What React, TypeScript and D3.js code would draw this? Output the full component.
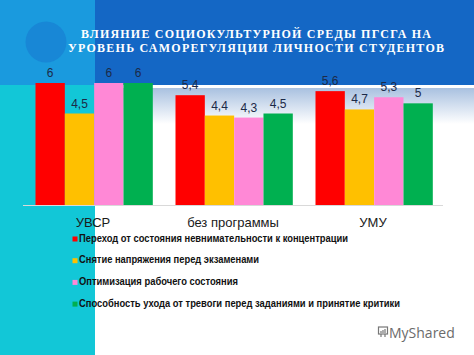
import React from "react";
import * as d3 from "d3";

const categories = ["УВСР", "без программы", "УМУ"];
const seriesNames = [
  "Переход от состояния невнимательности к концентрации",
  "Снятие напряжения перед экзаменами",
  "Оптимизация рабочего состояния",
  "Способность ухода от тревоги перед заданиями и принятие критики",
];
const seriesColors = ["#ff0000", "#ffc000", "#ff88d6", "#00b050"];
const values: number[][] = [
  [6, 5.4, 5.6],
  [4.5, 4.4, 4.7],
  [6, 4.3, 5.3],
  [6, 4.5, 5],
];
const valueLabels: string[][] = [
  ["6", "5,4", "5,6"],
  ["4,5", "4,4", "4,7"],
  ["6", "4,3", "5,3"],
  ["6", "4,5", "5"],
];
const titleLines = [
  "ВЛИЯНИЕ СОЦИОКУЛЬТУРНОЙ СРЕДЫ ПГСГА НА",
  "УРОВЕНЬ САМОРЕГУЛЯЦИИ ЛИЧНОСТИ СТУДЕНТОВ",
];
const legendWidths = [269, 180, 159, 321];

export default function App() {
  const W = 474, H = 355;
  const baseY = 205;
  const x0 = d3.scaleBand<string>().domain(categories).range([23, 443]).paddingInner(0).paddingOuter(0);
  const x1 = d3
    .scaleBand<number>()
    .domain(d3.range(seriesNames.length))
    .range([12.5, 12.5 + 117.3])
    .padding(0);
  const y = d3.scaleLinear().domain([0, 6]).range([baseY, 83]);

  return (
    <svg width={W} height={H} style={{ position: "absolute", left: 0, top: 0, display: "block" }}>
      <defs>
        <linearGradient id="fadeg" x1="0" y1="0" x2="0" y2="1">
          <stop offset="0" stopColor="#a9c1e0" />
          <stop offset="1" stopColor="#ffffff" />
        </linearGradient>
      </defs>
      <rect x={0} y={0} width={W} height={H} fill="#ffffff" />
      <rect x={95} y={88} width={W - 95} height={36} fill="url(#fadeg)" />
      <rect x={95} y={0} width={W - 95} height={85} fill="#1467c5" />
      <rect x={0} y={0} width={95} height={85} fill="#1a9ade" />
      <rect x={0} y={85} width={95} height={H - 85} fill="#12c7d7" />
      <circle cx={46} cy={42} r={20.5} fill="#1887d6" />
      {titleLines.map((t, i) => (
        <text
          key={i}
          x={i === 0 ? 81 : 68}
          y={i === 0 ? 38 : 51.5}
          textLength={i === 0 ? 350 : 376}
          lengthAdjust="spacing"
          fill="#ffffff"
          fontFamily="'Liberation Serif', 'DejaVu Serif', serif"
          fontWeight="bold"
          fontSize={12}
        >
          {t}
        </text>
      ))}
      <line x1={23} x2={443} y1={baseY + 0.5} y2={baseY + 0.5} stroke="#d9d9d9" strokeWidth={1} />
      {categories.map((c, ci) => (
        <g key={c} transform={`translate(${x0(c)},0)`}>
          {seriesNames.map((_, si) => {
            const v = values[si][ci];
            const bx = x1(si)!;
            const bw = x1.bandwidth();
            return (
              <g key={si}>
                <rect x={bx} y={y(v)} width={bw} height={baseY - y(v)} fill={seriesColors[si]} />
                <text
                  x={bx + bw / 2}
                  y={y(v) - 6}
                  textAnchor="middle"
                  fontFamily="'Liberation Sans', Arial, sans-serif"
                  fontSize={12}
                  fill="#1c2a48"
                >
                  {valueLabels[si][ci]}
                </text>
              </g>
            );
          })}
          <text
            x={x0.bandwidth() / 2}
            y={227}
            textAnchor="middle"
            fontFamily="'Liberation Sans', Arial, sans-serif"
            fontSize={13}
            fill="#1a1a1a"
          >
            {c}
          </text>
        </g>
      ))}
      {seriesNames.map((s, i) => {
        const ly = 238 + i * 21.7;
        return (
          <g key={s}>
            <rect x={72.5} y={ly - 1.5} width={5} height={5} fill={seriesColors[i]} />
            <text
              x={79}
              y={ly + 3.5}
              textLength={legendWidths[i]}
              lengthAdjust="spacingAndGlyphs"
              fontFamily="'Liberation Sans', Arial, sans-serif"
              fontWeight="bold"
              fontSize={10.5}
              fill="#111111"
            >
              {s}
            </text>
          </g>
        );
      })}
      <g transform="translate(378,327)" fill="none" stroke="#777" strokeWidth={1.2}>
        <rect x={0.5} y={0} width={9} height={7} />
        <line x1={3} x2={3} y1={7} y2={10} />
        <line x1={7} x2={7} y1={7} y2={10} />
        <line x1={3} x2={3} y1={4} y2={6} />
        <line x1={5} x2={5} y1={3} y2={6} />
        <line x1={7} x2={7} y1={2} y2={6} />
      </g>
      <text x={389} y={338} fontFamily="'Open Sans', 'Liberation Sans', sans-serif" fontSize={14} fill="#6b6b6b">
        MyShared
      </text>
    </svg>
  );
}
